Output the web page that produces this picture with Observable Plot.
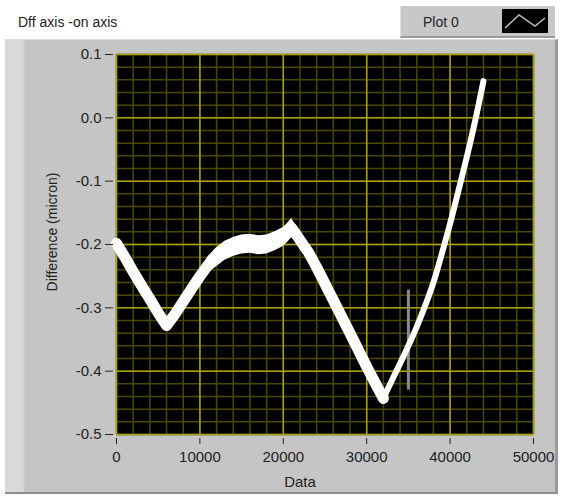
<!DOCTYPE html>
<html><head><meta charset="utf-8">
<script src="https://cdn.jsdelivr.net/npm/d3@7"></script>
<script src="https://cdn.jsdelivr.net/npm/@observablehq/plot@0.6"></script>
<style>
body{margin:0;background:#fff;font-family:"Liberation Sans",Arial,sans-serif;}
#wrap{position:relative;width:567px;height:497px;overflow:hidden;background:#fff;}
#panel{position:absolute;left:5px;top:39px;width:553px;height:455px;
  background:linear-gradient(to right,#d9d9d9 0,#d9d9d9 18px,#c5c5c5 20px,#c5c5c5 100%);
  border-right:3px solid #9a9a9a;border-bottom:2px solid #8e8e8e;border-top:1px solid #dcdcdc;box-sizing:border-box;}
#title{position:absolute;left:18px;top:14px;font-size:14px;color:#222;}
#legend{position:absolute;left:400px;top:6px;width:155px;height:32px;background:#c8c8c8;
  border-left:1px solid #e0e0e0;border-bottom:2px solid #9a9a9a;box-sizing:border-box;}
#legend .lab{position:absolute;left:22px;top:8px;font-size:14px;color:#222;}
#legend svg{position:absolute;left:101px;top:3px;}
#chart{position:absolute;left:0;top:0;}
#ylab{position:absolute;left:52px;top:232px;transform:translate(-50%,-50%) rotate(-90deg);font-size:14px;color:#222;white-space:nowrap;}
#xlab{position:absolute;left:300px;top:481px;transform:translate(-50%,-50%);font-size:15px;color:#222;}
</style></head>
<body><div id="wrap">
<div id="panel"></div>
<div id="title">Dff axis -on axis</div>
<div id="legend"><span class="lab">Plot 0</span>
<svg width="46" height="24"><rect width="46" height="24" fill="#000"/><polyline points="3,19 17,6 33,17 43,9" fill="none" stroke="#bdbdbd" stroke-width="1.5"/></svg></div>
<div id="chart"></div>
<div id="ylab">Difference (micron)</div>
<div id="xlab">Data</div>
</div>
<script>
const xTicks = [0, 10000, 20000, 30000, 40000, 50000];
const xTickLabels = ["0", "10000", "20000", "30000", "40000", "50000"];
const yTicks = [0.1, 0.0, -0.1, -0.2, -0.3, -0.4, -0.5];
const yTickLabels = ["0.1", "0.0", "-0.1", "-0.2", "-0.3", "-0.4", "-0.5"];

// main thick section of the trace
const segAx = [0,1000,2000,3000,4000,5000,6000,7000,8000,9000,10000,11000,12000,13000,14000,15000,16000,17000,18000,19000,20000,20500,21000,21500,22000,23000,24000,26000,28000,30000,31000,32000];
const segAy = [-0.198,-0.22,-0.243,-0.265,-0.286,-0.308,-0.328,-0.31,-0.29,-0.27,-0.25,-0.232,-0.22,-0.21,-0.204,-0.2,-0.199,-0.201,-0.2,-0.195,-0.188,-0.182,-0.174,-0.183,-0.193,-0.212,-0.236,-0.288,-0.34,-0.393,-0.418,-0.443];
const segAnoise = [0.006,0.008,0.008,0.008,0.008,0.008,0.008,0.008,0.008,0.008,0.01,0.013,0.015,0.015,0.015,0.015,0.015,0.015,0.015,0.015,0.015,0.015,0.015,0.013,0.011,0.009,0.008,0.008,0.008,0.008,0.008,0.008];
// thinner rising section
const segBx = [32000,33000,34000,35000,36000,37000,38000,39000,40000,41000,42000,43000,44000];
const segBy = [-0.443,-0.415,-0.388,-0.36,-0.33,-0.297,-0.26,-0.215,-0.167,-0.115,-0.062,-0.005,0.058];
// grey cursor line
const cursorX = [35000];
const cursorY1 = [-0.272];
const cursorY2 = [-0.43];

const minorX = d3.range(0, 50001, 2000);
const minorY = d3.range(0, 31).map(i => -0.5 + i * 0.02);
const bandData = segAx.map((x, i) => ({x, lo: segAy[i] - segAnoise[i], hi: segAy[i] + segAnoise[i]}));
const lineA = segAx.map((x, i) => ({x, y: segAy[i]}));
const lineB = segBx.map((x, i) => ({x, y: segBy[i]}));
const cursor = cursorX.map((x, i) => ({x, y1: cursorY1[i], y2: cursorY2[i]}));

const major = "#aaa200", minor = "#4c4700";
const chart = Plot.plot({
  width: 567, height: 497,
  marginLeft: 116, marginRight: 34, marginTop: 54, marginBottom: 63,
  x: {domain: [0, 50000]},
  y: {domain: [-0.5, 0.1]},
  style: {background: "transparent", fontFamily: "'Liberation Sans', Arial, sans-serif", fontSize: "15px", color: "#222"},
  marks: [
    Plot.frame({fill: "#000", stroke: "none"}),
    Plot.ruleX(minorX, {stroke: minor, strokeWidth: 1.5}),
    Plot.ruleY(minorY, {stroke: minor, strokeWidth: 1.5}),
    Plot.ruleX(xTicks, {stroke: major, strokeWidth: 1.5}),
    Plot.ruleY(yTicks, {stroke: major, strokeWidth: 1.5}),
    Plot.ruleX(cursor, {x: "x", y1: "y1", y2: "y2", stroke: "#8a8a8a", strokeWidth: 3}),
    Plot.areaY(bandData, {x: "x", y1: "lo", y2: "hi", fill: "#fff"}),
    Plot.line(lineA, {x: "x", y: "y", stroke: "#fff", strokeWidth: 11}),
    Plot.line(lineB, {x: "x", y: "y", stroke: "#fff", strokeWidth: 6, curve: "catmull-rom"}),
    Plot.axisX({ticks: xTicks, tickFormat: (d, i) => xTickLabels[i], tickSize: 6, tickPadding: 7, dy: 4, label: null}),
    Plot.axisY({ticks: yTicks, tickFormat: (d, i) => yTickLabels[i], tickSize: 8, tickPadding: 4, dx: -3, label: null})
  ]
});
document.getElementById("chart").appendChild(chart);
</script>
</body></html>
